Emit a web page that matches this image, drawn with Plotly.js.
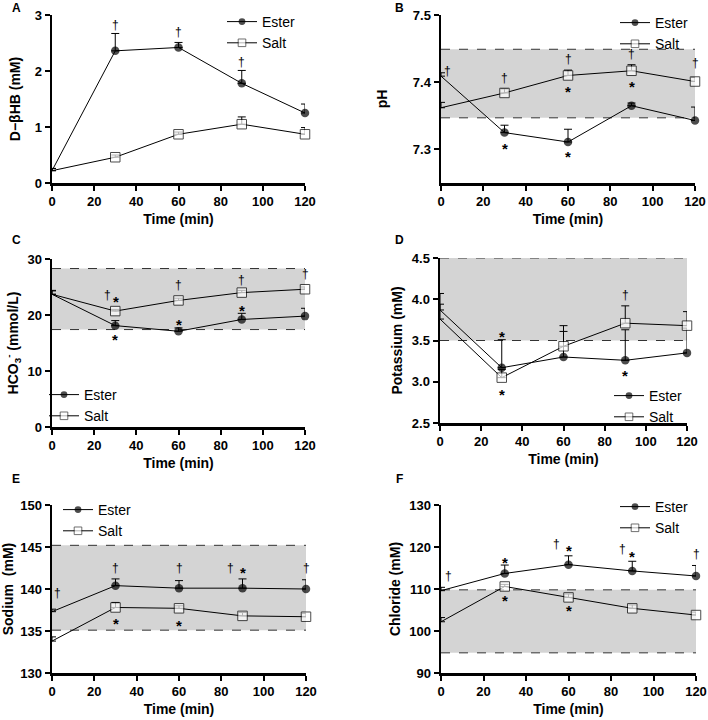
<!DOCTYPE html>
<html>
<head>
<meta charset="utf-8">
<script src="https://cdn.plot.ly/plotly-3.0.1.min.js"></script>
<style>html,body{margin:0;padding:0;background:#fff;}#chart{width:708px;height:720px;}</style>
</head>
<body>
<div id="chart"></div>
<script>
// ---------- data ----------
const time = [0, 30, 60, 90, 120];
const seriesNames = ["Ester", "Salt"];

// A: D-βHB (mM)
const esterBHB = [0.22, 2.36, 2.42, 1.78, 1.25];
const esterBHBErr = [0.04, 0.31, 0.09, 0.23, 0.16];
const saltBHB = [0.22, 0.46, 0.87, 1.05, 0.87];
const saltBHBErr = [0.04, 0.04, 0.04, 0.13, 0.12];

// B: pH
const esterPH = [7.409, 7.325, 7.311, 7.365, 7.343];
const esterPHErr = [0.005, 0.011, 0.019, 0.004, 0.020];
const saltPH = [7.362, 7.384, 7.410, 7.417, 7.401];
const saltPHErr = [0.008, 0.006, 0.008, 0.009, 0.006];
const bandPH = [7.347, 7.449];

// C: HCO3- (mmol/L)
const esterHCO3 = [23.7, 18.1, 17.1, 19.2, 19.8];
const esterHCO3Err = [0.6, 0.9, 0.6, 1.1, 1.4];
const saltHCO3 = [23.7, 20.7, 22.6, 24.0, 24.6];
const saltHCO3Err = [0.7, 0.3, 0.4, 0.4, 0.4];
const bandHCO3 = [17.4, 28.3];

// D: Potassium (mM)
const esterK = [3.87, 3.17, 3.30, 3.26, 3.35];
const esterKErr = [0.20, 0.34, 0.31, 0.37, 0.30];
const saltK = [3.76, 3.05, 3.43, 3.71, 3.68];
const saltKErr = [0.18, 0.10, 0.25, 0.21, 0.17];
const bandK = [3.5, 4.5];

// E: Sodium (mM)
const esterNa = [137.3, 140.4, 140.1, 140.1, 140.0];
const esterNaErr = [0.3, 0.8, 0.9, 1.1, 1.1];
const saltNa = [133.8, 137.8, 137.7, 136.8, 136.7];
const saltNaErr = [0.5, 0.6, 0.3, 0.4, 0.4];
const bandNa = [135.1, 145.2];

// F: Chloride (mM)
const esterCl = [109.6, 113.7, 115.8, 114.3, 113.1];
const esterClErr = [0.8, 2.0, 2.1, 2.3, 2.5];
const saltCl = [102.2, 110.6, 108.0, 105.4, 103.8];
const saltClErr = [1.0, 0.5, 0.8, 0.8, 0.7];
const bandCl = [94.8, 109.8];

// significance marks: [time, value, symbol]
const marksA = [[30, 2.82, "†"], [60, 2.69, "†"], [90, 2.16, "†"]];
const marksB = [[3, 7.417, "†"], [30, 7.407, "†"], [60, 7.434, "†"], [90, 7.442, "†"], [120, 7.428, "†"],
                [30, 7.307, "*"], [60, 7.392, "*"], [60, 7.295, "*"], [90, 7.400, "*"]];
const marksC = [[26.4, 23.5, "†"], [30.5, 23.1, "*"], [30, 16.4, "*"], [60, 25.3, "†"], [60, 19.1, "*"],
                [90, 26.2, "†"], [90, 21.6, "*"], [120, 27.3, "†"]];
const marksD = [[30, 3.595, "*"], [30, 2.89, "*"], [90, 4.05, "†"], [90, 3.12, "*"]];
const marksE = [[2.4, 139.5, "†"], [30, 142.5, "†"], [60, 142.5, "†"], [84.4, 142.5, "†"], [90, 142.5, "*"],
                [120, 142.5, "†"], [30, 136.4, "*"], [60, 136.1, "*"]];
const marksF = [[3.4, 113.0, "†"], [30, 117.3, "*"], [30, 108.1, "*"], [54.4, 120.7, "†"], [60, 120.1, "*"],
                [60, 105.8, "*"], [85.5, 119.5, "†"], [90, 118.8, "*"], [120, 118.3, "†"]];

const panelLetters = ["A", "B", "C", "D", "E", "F"];
const xTicks = [0, 20, 40, 60, 80, 100, 120];

// ---------- layout helpers ----------
const FONT = 'Arial, "Liberation Sans", sans-serif';
const W = 708, H = 720;

const panels = [
  {id: "", ester: esterBHB, eErr: esterBHBErr, salt: saltBHB, sErr: saltBHBErr, band: null, marks: marksA,
   px: [52, 305], py: [15, 183], yr: [0, 3], yt: [0, 1, 2, 3], fmt: "", title: "D−βHB (mM)", stand: 11,
   leg: [222, 6], letter: [16, 8]},
  {id: "2", ester: esterPH, eErr: esterPHErr, salt: saltPH, sErr: saltPHErr, band: bandPH, marks: marksB,
   px: [441, 695], py: [15, 183], yr: [7.25, 7.5], yt: [7.3, 7.4, 7.5], fmt: ".1f", title: "pH", stand: 22,
   leg: [615, 7], letter: [399, 8]},
  {id: "3", ester: esterHCO3, eErr: esterHCO3Err, salt: saltHCO3, sErr: saltHCO3Err, band: bandHCO3, marks: marksC,
   px: [52, 305], py: [259, 427], yr: [0, 30], yt: [0, 10, 20, 30], fmt: "", title: "HCO<sub>3</sub><sup>-</sup> (mmol/L)", stand: 6,
   leg: [44, 379], letter: [16, 240]},
  {id: "4", ester: esterK, eErr: esterKErr, salt: saltK, sErr: saltKErr, band: bandK, marks: marksD,
   px: [440, 687], py: [258, 423], yr: [2.5, 4.5], yt: [2.5, 3.0, 3.5, 4.0, 4.5], fmt: ".1f", title: "Potassium (mM)", stand: 6,
   leg: [609, 380], letter: [399, 240]},
  {id: "5", ester: esterNa, eErr: esterNaErr, salt: saltNa, sErr: saltNaErr, band: bandNa, marks: marksE,
   px: [52, 306], py: [505, 673], yr: [130, 150], yt: [130, 135, 140, 145, 150], fmt: "", title: "Sodium  (mM)", stand: 5,
   leg: [58, 494], letter: [16, 479]},
  {id: "6", ester: esterCl, eErr: esterClErr, salt: saltCl, sErr: saltClErr, band: bandCl, marks: marksF,
   px: [441, 696], py: [505, 673], yr: [90, 130], yt: [90, 100, 110, 120, 130], fmt: "", title: "Chloride (mM)", stand: 6,
   leg: [615, 491], letter: [399, 479]}
];

// first time point is drawn without a marker (line starts at the axis), as in the reference
const esterSizes = time.map((t, k) => k === 0 ? 0 : 8.5);
const saltSizes = time.map((t, k) => k === 0 ? 0 : 9.5);
const saltOutline = time.map((t, k) => k === 0 ? 0 : 1);

const traces = [];
const layout = {
  width: W, height: H,
  margin: {l: 0, r: 0, t: 0, b: 0},
  paper_bgcolor: "white", plot_bgcolor: "rgba(0,0,0,0)",
  font: {family: FONT, color: "black"},
  showlegend: true,
  shapes: [], annotations: []
};

const axisBase = {
  showline: true, linewidth: 2.5, linecolor: "black",
  ticks: "outside", ticklen: 5, tickwidth: 2, tickcolor: "black",
  showgrid: false, zeroline: false,
  tickfont: {family: FONT, size: 13, weight: "bold", color: "black"}
};

panels.forEach((p, i) => {
  const xa = "x" + p.id, ya = "y" + p.id;
  const legName = i === 0 ? "legend" : "legend" + (i + 1);
  const zeros = time.map(() => 0);

  traces.push({
    type: "scatter", mode: "lines+markers", name: seriesNames[0], x: time, y: p.ester,
    xaxis: xa, yaxis: ya, legend: legName, cliponaxis: false,
    line: {color: "black", width: 1},
    marker: {symbol: "circle", size: esterSizes, color: "black", line: {width: 0}},
    error_y: {type: "data", symmetric: false, array: p.eErr, arrayminus: zeros, color: "black", thickness: 1, width: 4}
  });
  traces.push({
    type: "scatter", mode: "lines+markers", name: seriesNames[1], x: time, y: p.salt,
    xaxis: xa, yaxis: ya, legend: legName, cliponaxis: false,
    line: {color: "black", width: 1},
    marker: {symbol: "square", size: saltSizes, color: "white", line: {color: "black", width: saltOutline}},
    error_y: {type: "data", symmetric: false, array: p.sErr, arrayminus: zeros, color: "black", thickness: 1, width: 4}
  });

  const axKeyX = "xaxis" + p.id, axKeyY = "yaxis" + p.id;
  layout[axKeyX] = Object.assign({}, axisBase, {
    domain: [p.px[0] / W, p.px[1] / W], anchor: ya, range: [0, 120], tickvals: xTicks,
    title: {text: "Time (min)", font: {family: FONT, size: 14, weight: "bold"}, standoff: 6}
  });
  layout[axKeyY] = Object.assign({}, axisBase, {
    domain: [1 - p.py[1] / H, 1 - p.py[0] / H], anchor: xa, range: p.yr, tickvals: p.yt, tickformat: p.fmt,
    title: {text: p.title, font: {family: FONT, size: 14, weight: "bold"}, standoff: p.stand}
  });

  layout[legName] = {
    x: p.leg[0] / W, y: 1 - p.leg[1] / H, xanchor: "left", yanchor: "top",
    bgcolor: "rgba(0,0,0,0)", borderwidth: 0, itemwidth: 30,
    font: {family: FONT, size: 14, color: "black"}, tracegroupgap: 0
  };

  if (p.band) {
    layout.shapes.push({type: "rect", xref: xa, yref: ya, x0: 0, x1: 120, y0: p.band[0], y1: p.band[1],
      fillcolor: "#d4d4d4", line: {width: 0}, layer: "below"});
    p.band.forEach(v => layout.shapes.push({type: "line", xref: xa, yref: ya, x0: 0, x1: 120, y0: v, y1: v,
      line: {color: "#333", width: 1, dash: "dash"}, layer: "below"}));
  }

  p.marks.forEach(m => {
    const star = m[2] === "*";
    layout.annotations.push({
      xref: xa, yref: ya, x: m[0], y: m[1], text: m[2], showarrow: false,
      xanchor: "center", yanchor: "middle", yshift: star ? -4 : 0,
      font: {family: FONT, size: star ? 15 : 12, weight: star ? "bold" : "normal", color: "black"}
    });
  });

  layout.annotations.push({
    xref: "paper", yref: "paper", x: p.letter[0] / W, y: 1 - p.letter[1] / H, text: panelLetters[i],
    showarrow: false, xanchor: "center", yanchor: "middle",
    font: {family: FONT, size: 12, weight: "bold", color: "black"}
  });
});

Plotly.newPlot("chart", traces, layout, {displayModeBar: false, staticPlot: true});
</script>
</body>
</html>
